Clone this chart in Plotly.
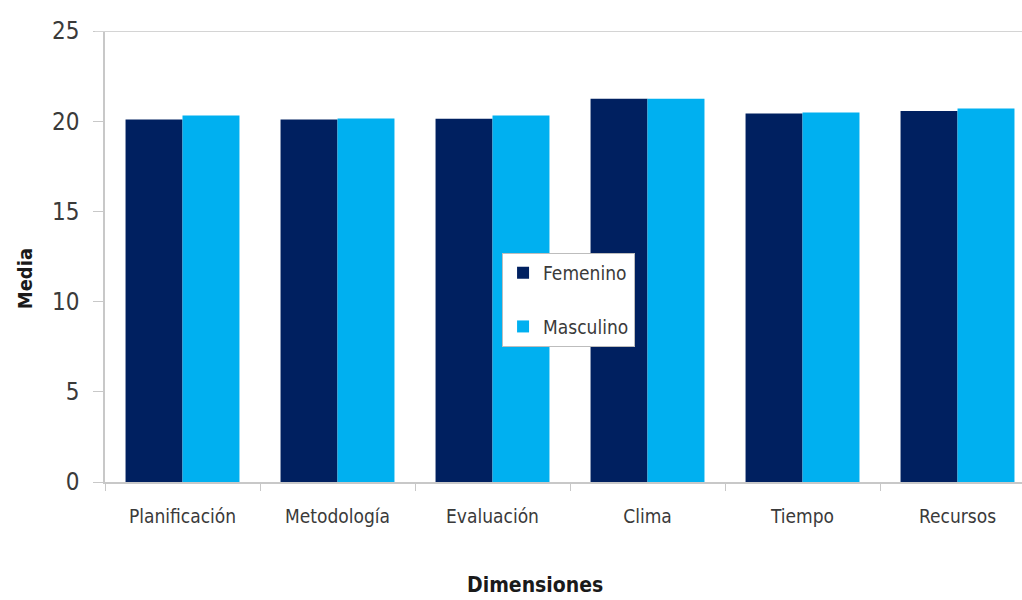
import plotly.graph_objects as go

categorias = ["Planificación", "Metodología", "Evaluación", "Clima", "Tiempo", "Recursos"]
femenino = [20.09, 20.09, 20.13, 21.25, 20.42, 20.57]
masculino = [20.31, 20.15, 20.31, 21.25, 20.48, 20.70]
y_ticks = [0, 5, 10, 15, 20, 25]

FONT = "'DejaVu Sans Condensed', 'Roboto Condensed', 'Liberation Sans Narrow', 'DejaVu Sans', sans-serif"
TXT = "#3a3a3a"
AXIS = "#c8c8c8"

fig = go.Figure()
fig.add_trace(go.Bar(x=categorias, y=femenino, name="Femenino", legendgroup="f",
                     marker=dict(color="#002060", line=dict(width=0))))
fig.add_trace(go.Bar(x=categorias, y=masculino, name="Masculino", legendgroup="m",
                     marker=dict(color="#00B0F0", line=dict(width=0))))

fig.update_layout(
    width=1022, height=600,
    margin=dict(l=105, r=0, t=31, b=118),
    plot_bgcolor="white", paper_bgcolor="white",
    barmode="group", bargap=0.265, bargroupgap=0,
    font=dict(family=FONT, color=TXT),
    showlegend=True,
    legend=dict(
        x=0.433, y=0.508, xanchor="left", yanchor="top",
        bgcolor="white", bordercolor="#bdbdbd", borderwidth=1,
        font=dict(family=FONT, size=19, color=TXT),
        itemwidth=30, tracegroupgap=26,
    ),
    xaxis=dict(
        range=[-0.5, 5.416], showgrid=False,
        showline=True, linecolor=AXIS, linewidth=1.5,
        ticks="outside", tickson="boundaries", ticklen=7, tickcolor=AXIS,
        tickfont=dict(family=FONT, size=19, color=TXT),
        ticklabelstandoff=16,
    ),
    yaxis=dict(
        range=[0, 25], tickvals=y_ticks, showgrid=False, zeroline=False,
        showline=True, linecolor=AXIS, linewidth=1.5,
        ticks="outside", ticklen=10, tickcolor=AXIS,
        tickfont=dict(family=FONT, size=24, color=TXT),
        ticklabelstandoff=9,
    ),
    shapes=[dict(type="line", xref="paper", yref="y", x0=-0.011, x1=1, y0=25, y1=25,
                 line=dict(color="#d4d4d4", width=2))],
    annotations=[
        dict(text="<b>Media</b>", xref="paper", yref="paper", x=-0.087, y=0.45,
             xanchor="center", yanchor="middle",
             textangle=-90, showarrow=False, font=dict(family=FONT, size=20, color="#1a1a1a")),
        dict(text="<b>Dimensiones</b>", xref="paper", yref="paper", x=0.469, y=-0.228,
             yanchor="middle", showarrow=False, font=dict(family=FONT, size=21, color="#1a1a1a")),
    ],
)

fig.write_html("out.html")
